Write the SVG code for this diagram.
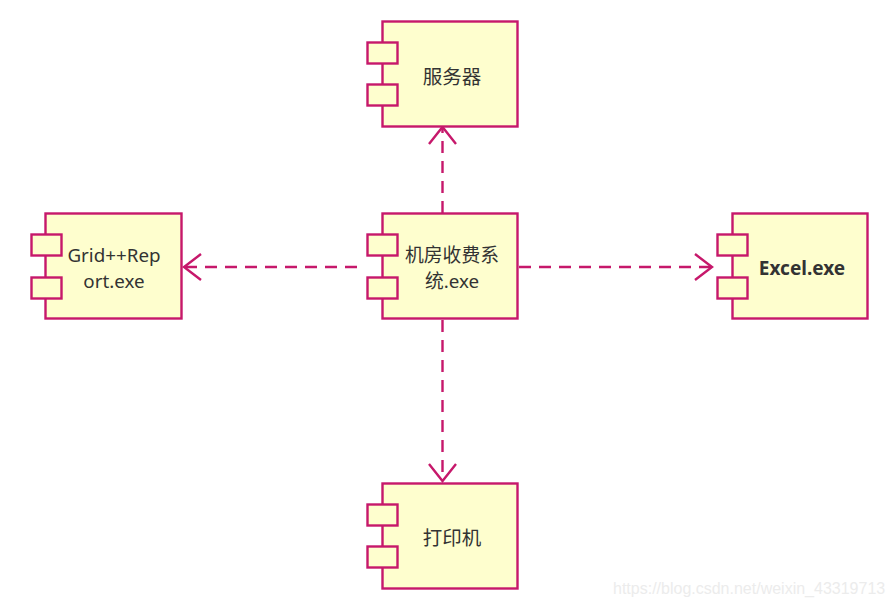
<svg xmlns="http://www.w3.org/2000/svg" width="894" height="605" viewBox="0 0 894 605">
<style>
.box{fill:#FEFECE;stroke:#C6186B;stroke-width:2.4}
.lbl{font-family:"Noto Sans","Noto Sans CJK SC",sans-serif;font-size:19.5px;fill:#333;text-anchor:middle}
.two{font-size:18.8px}
.bold{font-weight:bold;font-size:19px}
.edge{fill:none;stroke:#C6186B;stroke-width:2.4;stroke-dasharray:12 8}
.head{fill:none;stroke:#C6186B;stroke-width:2.4}
.wm{font-family:"Liberation Sans",Arial,sans-serif;font-size:16px;fill:#ececec}
</style>
<rect width="894" height="605" fill="#fff"/>
<g id="connectors">
<line class="edge" x1="442.5" y1="213" x2="442.5" y2="128"/>
<polyline class="head" points="429,144 442.5,127 456,144"/>
<line class="edge" x1="357" y1="267" x2="184" y2="267"/>
<polyline class="head" points="201,254 184,267 201,280"/>
<line class="edge" x1="519" y1="267" x2="711" y2="267"/>
<polyline class="head" points="695,254 712,267 695,280"/>
<line class="edge" x1="442.5" y1="320" x2="442.5" y2="480"/>
<polyline class="head" points="429,464 442.5,481 456,464"/>
</g>
<g id="server">
<rect class="box" x="382.5" y="21.5" width="135" height="105"/>
<rect class="box" x="367.5" y="42.5" width="30" height="21"/>
<rect class="box" x="367.5" y="84.5" width="30" height="21"/>
<text class="lbl" x="452" y="84">服务器</text>
</g>
<g id="grid">
<rect class="box" x="45.5" y="213.5" width="136" height="105"/>
<rect class="box" x="31.5" y="234.5" width="30" height="21"/>
<rect class="box" x="31.5" y="277.5" width="30" height="21"/>
<text class="lbl two" y="262"><tspan x="114">Grid++Rep</tspan><tspan x="114" dy="26">ort.exe</tspan></text>
</g>
<g id="main">
<rect class="box" x="382.5" y="213.5" width="135" height="105"/>
<rect class="box" x="367.5" y="234.5" width="30" height="21"/>
<rect class="box" x="367.5" y="277.5" width="30" height="21"/>
<text class="lbl two" y="262"><tspan x="452">机房收费系</tspan><tspan x="452" dy="26">统.exe</tspan></text>
</g>
<g id="excel">
<rect class="box" x="732.5" y="213.5" width="135" height="105"/>
<rect class="box" x="717.5" y="234.5" width="30" height="21"/>
<rect class="box" x="717.5" y="277.5" width="30" height="21"/>
<text class="lbl bold" x="802" y="275">Excel.exe</text>
</g>
<g id="printer">
<rect class="box" x="382.5" y="483.5" width="135" height="105"/>
<rect class="box" x="367.5" y="504.5" width="30" height="21"/>
<rect class="box" x="367.5" y="546.5" width="30" height="21"/>
<text class="lbl" x="452" y="545">打印机</text>
</g>
<text class="wm" x="613" y="594">https://blog.csdn.net/weixin_43319713</text>
</svg>
